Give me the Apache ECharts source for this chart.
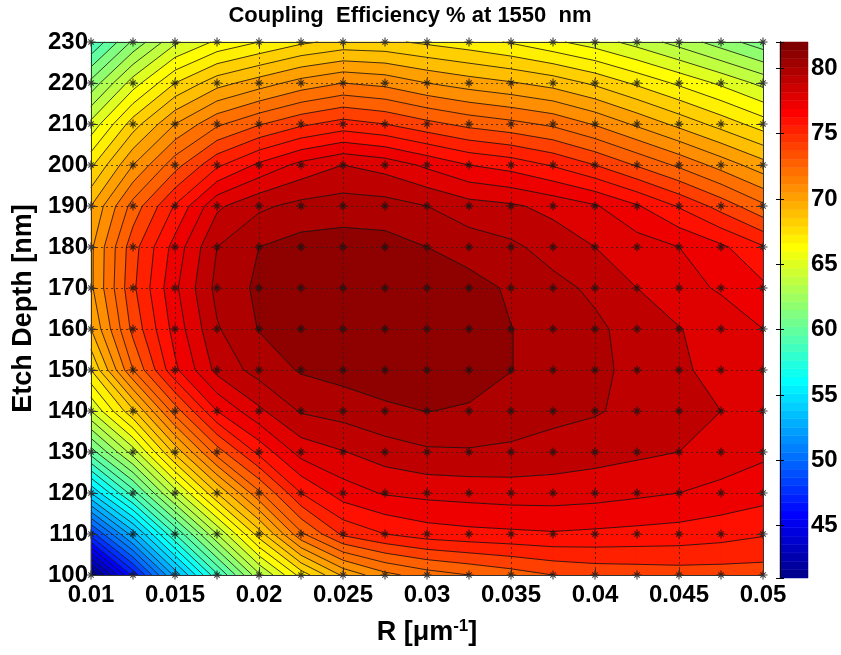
<!DOCTYPE html>
<html><head><meta charset="utf-8">
<script src="https://cdn.jsdelivr.net/npm/echarts@6/dist/echarts.min.js"></script>
<style>html,body{margin:0;padding:0;background:#fff}#c{width:841px;height:655px}</style>
</head><body><div id="c"></div>
<script>
// ---- data ----
const xValues = [0.01,0.0125,0.015,0.0175,0.02,0.0225,0.025,0.0275,0.03,0.0325,0.035,0.0375,0.04,0.0425,0.045,0.0475,0.05];
const yValues = [100,110,120,130,140,150,160,170,180,190,200,210,220,230];
const eff100 = [41.0,47.3,53.3,58.8,63.8,67.4,70.2,71.7,72.5,73.0,73.5,74.0,74.3,74.4,74.5,74.5,74.5];
const eff110 = [48.5,53.5,59.0,64.0,68.5,72.8,75.2,76.0,76.5,76.7,76.8,76.9,76.8,76.7,76.6,76.4,76.1];
const eff120 = [55.0,59.5,64.5,69.0,72.8,76.0,77.5,78.1,78.3,78.4,78.5,78.5,78.4,78.2,78.0,77.7,77.4];
const eff130 = [60.5,64.5,69.3,73.5,76.3,78.4,78.95,79.5,79.85,79.9,79.8,79.6,79.4,79.2,79.0,78.6,78.2];
const eff140 = [65.0,68.8,73.5,77.0,78.8,80.1,80.4,80.8,81.02,80.9,80.6,80.3,80.1,79.7,79.4,79.0,78.6];
const eff150 = [68.0,73.0,76.8,79.3,80.4,81.1,81.4,81.6,81.7,81.4,81.02,80.6,80.25,79.7,79.15,78.7,78.4];
const eff160 = [70.0,74.3,77.4,79.9,81.05,81.5,81.8,82.0,81.9,81.6,81.02,80.6,80.2,79.6,79.05,78.5,78.0];
const eff170 = [70.8,74.8,77.8,80.3,81.2,81.6,81.8,81.9,81.8,81.4,80.85,80.3,79.8,79.0,78.3,77.9,77.2];
const eff180 = [70.8,74.6,77.4,80.0,81.0,81.4,81.5,81.4,81.0,80.55,80.2,79.6,79.0,78.5,78.0,77.2,76.1];
const eff190 = [70.0,73.4,76.1,78.8,79.8,80.3,80.46,80.4,80.0,79.4,79.15,78.7,78.1,77.1,75.9,74.6,73.2];
const eff200 = [67.8,71.0,73.6,75.8,77.2,78.3,79.0,78.6,77.8,77.0,76.6,75.9,75.0,73.9,72.8,71.6,70.4];
const eff210 = [65.3,68.5,71.0,72.8,73.9,74.8,75.4,75.0,74.3,73.7,73.3,72.8,71.9,70.8,69.7,68.6,67.5];
const eff220 = [62.3,65.5,68.0,69.6,70.5,71.4,72.0,71.7,71.0,70.5,70.1,69.6,68.8,67.8,66.8,65.8,64.7];
const eff230 = [59.0,62.2,64.8,66.2,67.0,67.8,68.3,68.2,67.8,67.4,66.9,66.2,65.5,64.6,63.6,62.5,61.4];
const effRows = [eff100,eff110,eff120,eff130,eff140,eff150,eff160,eff170,eff180,eff190,eff200,eff210,eff220,eff230];
const contourLevels = [42,43,44,45,46,47,48,49,50,51,52,53,54,55,56,57,58,59,60,61,62,63,64,65,66,67,68,69,70,71,72,73,74,75,76,77,78,79,80,81];
const colorbarTicks = [45,50,55,60,65,70,75,80];
const titleText = 'Coupling  Efficiency % at 1550  nm';

// ---- helpers ----
const FONT = "'Liberation Sans', Arial, sans-serif";
function jet64(){
  const m=64,n=16,u=[];
  for(let k=1;k<=n;k++)u.push(k/n);
  for(let k=0;k<n-1;k++)u.push(1);
  for(let k=n;k>=1;k--)u.push(k/n);
  const R=new Array(m).fill(0),G=new Array(m).fill(0),B=new Array(m).fill(0);
  for(let k=0;k<u.length;k++){
    const gi=9+k, ri=gi+n, bi=gi-n;
    if(gi>=1&&gi<=m)G[gi-1]=u[k];
    if(ri>=1&&ri<=m)R[ri-1]=u[k];
    if(bi>=1&&bi<=m)B[bi-1]=u[k];
  }
  return R.map((r,i)=>'rgb('+Math.round(r*255)+','+Math.round(G[i]*255)+','+Math.round(B[i]*255)+')');
}
const JET = jet64();
const allZ = effRows.flat();
const zmin = Math.min(...allZ), zmax = Math.max(...allZ);
function colorOf(v){let k=Math.floor((v-zmin)/(zmax-zmin)*64);if(k<0)k=0;if(k>63)k=63;return JET[k];}
const bandEdges=[-Infinity,...contourLevels,Infinity];

function cellPoly(i,j){
  return [
    {x:xValues[i],y:yValues[j],v:effRows[j][i]},
    {x:xValues[i+1],y:yValues[j],v:effRows[j][i+1]},
    {x:xValues[i+1],y:yValues[j+1],v:effRows[j+1][i+1]},
    {x:xValues[i],y:yValues[j+1],v:effRows[j+1][i]}
  ];
}
function clip(poly,lev,above){
  const out=[],n=poly.length;
  for(let k=0;k<n;k++){
    const A=poly[k],B=poly[(k+1)%n];
    const ina=above?A.v>=lev:A.v<=lev, inb=above?B.v>=lev:B.v<=lev;
    if(ina)out.push(A);
    if(ina!==inb){const t=(lev-A.v)/(B.v-A.v);out.push({x:A.x+t*(B.x-A.x),y:A.y+t*(B.y-A.y),v:lev});}
  }
  return out;
}
const cells=[];
for(let j=0;j<yValues.length-1;j++)for(let i=0;i<xValues.length-1;i++)cells.push([xValues[i],yValues[j],i,j]);
const points=[];
for(let j=0;j<yValues.length;j++)for(let i=0;i<xValues.length;i++)points.push([xValues[i],yValues[j]]);
const cbData=[];
for(let k=0;k<64;k++){const lo=zmin+k*(zmax-zmin)/64;cbData.push([0,lo,lo+(zmax-zmin)/64,k]);}

function renderFill(params,api){
  const i=api.value(2),j=api.value(3);
  const base=cellPoly(i,j),vs=base.map(p=>p.v);
  const lo0=Math.min(...vs),hi0=Math.max(...vs);
  const children=[];
  for(let b=0;b<bandEdges.length-1;b++){
    const lo=bandEdges[b],hi=bandEdges[b+1];
    if(hi<lo0||lo>hi0)continue;
    let poly=base;
    if(isFinite(lo))poly=clip(poly,lo,true);
    if(poly.length<3)continue;
    if(isFinite(hi))poly=clip(poly,hi,false);
    if(poly.length<3)continue;
    const col=colorOf(b===0?zmin:lo);
    children.push({type:'polygon',shape:{points:poly.map(p=>api.coord([p.x,p.y]))},style:{fill:col,stroke:col,lineWidth:0.8}});
  }
  return {type:'group',children};
}
function renderLines(params,api){
  const i=api.value(2),j=api.value(3);
  const P=cellPoly(i,j),children=[];
  for(const L of contourLevels){
    const pts=[];
    for(let k=0;k<4;k++){
      const A=P[k],B=P[(k+1)%4];
      if((A.v>=L)!==(B.v>=L)){const t=(L-A.v)/(B.v-A.v);pts.push(api.coord([A.x+t*(B.x-A.x),A.y+t*(B.y-A.y)]));}
    }
    for(let s=0;s+1<pts.length;s+=2){
      children.push({type:'line',shape:{x1:pts[s][0],y1:pts[s][1],x2:pts[s+1][0],y2:pts[s+1][1]},style:{stroke:'#111',lineWidth:0.8}});
    }
  }
  return {type:'group',children};
}
function renderBar(params,api){
  const p0=api.coord([0,api.value(1)]),p1=api.coord([1,api.value(2)]);
  const col=JET[api.value(3)];
  return {type:'rect',shape:{x:p0[0],y:p1[1],width:p1[0]-p0[0],height:p0[1]-p1[1]},style:{fill:col,stroke:col,lineWidth:0.5}};
}
const lblStyle={fontFamily:FONT,fontWeight:'bold',fontSize:24,color:'#000'};
const nameStyle={fontFamily:FONT,fontWeight:'bold',fontSize:27,color:'#000'};
const chart=echarts.init(document.getElementById('c'),null,{renderer:'canvas'});
chart.setOption({
  animation:false,
  backgroundColor:'#fff',
  textStyle:{fontFamily:FONT},
  title:{text:titleText,left:410,top:5,textAlign:'center',padding:0,textStyle:{fontFamily:FONT,fontWeight:'bold',fontSize:22,color:'#000'}},
  grid:[
    {left:91,right:78,top:42,bottom:80},
    {left:780,right:33,top:42,bottom:77}
  ],
  xAxis:[
    {type:'value',gridIndex:0,min:0.01,max:0.05,interval:0.005,position:'bottom',z:10,
     axisLine:{show:true,lineStyle:{color:'#333',width:1}},
     axisTick:{show:true,inside:true,length:6,lineStyle:{color:'#333'}},
     splitLine:{show:true,lineStyle:{color:'#222',type:[2,3],width:1,opacity:0.75}},
     axisLabel:{...lblStyle,margin:8,formatter:v=>String(parseFloat(v.toFixed(4)))},
     name:'{n|R [μm}{s|-1}{n|]}',nameLocation:'middle',nameGap:43,
     nameTextStyle:{rich:{n:{...nameStyle},s:{fontFamily:FONT,fontWeight:'bold',fontSize:17,color:'#000',padding:[0,0,13,0]}}}},
    {type:'value',gridIndex:0,min:0.01,max:0.05,interval:0.005,position:'top',z:10,
     axisLine:{show:true,lineStyle:{color:'#333',width:1}},
     axisTick:{show:true,inside:true,length:6,lineStyle:{color:'#333'}},
     splitLine:{show:false},axisLabel:{show:false}},
    {type:'value',gridIndex:1,min:0,max:1,show:false}
  ],
  yAxis:[
    {type:'value',gridIndex:0,min:100,max:230,interval:10,position:'left',z:10,
     axisLine:{show:true,lineStyle:{color:'#333',width:1}},
     axisTick:{show:true,inside:true,length:6,lineStyle:{color:'#333'}},
     splitLine:{show:true,lineStyle:{color:'#222',type:[2,3],width:1,opacity:0.75}},
     axisLabel:{...lblStyle,margin:3},
     name:'Etch Depth [nm]',nameLocation:'middle',nameGap:48,nameRotate:90,
     nameTextStyle:{...nameStyle}},
    {type:'value',gridIndex:0,min:100,max:230,interval:10,position:'right',z:10,
     axisLine:{show:true,lineStyle:{color:'#333',width:1}},
     axisTick:{show:true,inside:true,length:6,lineStyle:{color:'#333'}},
     splitLine:{show:false},axisLabel:{show:false}},
    {type:'value',gridIndex:1,min:zmin,max:zmax,minInterval:5,maxInterval:5,position:'right',z:10,
     axisLine:{show:true,lineStyle:{color:'#000',width:1}},
     axisTick:{show:true,inside:true,length:4,lineStyle:{color:'#000'}},
     splitLine:{show:false},
     axisLabel:{...lblStyle,margin:3,formatter:v=>{const r=Math.round(v);return (Math.abs(v-r)<1e-6&&colorbarTicks.includes(r))?String(r):'';}}},
    {type:'value',gridIndex:1,min:zmin,max:zmax,minInterval:5,maxInterval:5,position:'left',z:10,
     axisLine:{show:true,lineStyle:{color:'#000',width:1}},
     axisTick:{show:true,inside:true,length:4,lineStyle:{color:'#000'}},
     splitLine:{show:false},axisLabel:{show:false}}
  ],
  series:[
    {type:'custom',name:'fill',xAxisIndex:0,yAxisIndex:0,z:2,silent:true,renderItem:renderFill,data:cells,encode:{x:0,y:1}},
    {type:'custom',name:'contours',xAxisIndex:0,yAxisIndex:0,z:3,silent:true,renderItem:renderLines,data:cells,encode:{x:0,y:1}},
    {type:'scatter',name:'samples',xAxisIndex:0,yAxisIndex:0,z:5,silent:true,data:points,
     symbol:'path://M0 -10 L0 10 M-10 0 L10 0 M-6 -6 L6 6 M-6 6 L6 -6',symbolSize:9,
     itemStyle:{color:'rgba(0,0,0,0)',borderColor:'#111',borderWidth:1.1}},
    {type:'custom',name:'colorbar',xAxisIndex:2,yAxisIndex:2,z:2,silent:true,renderItem:renderBar,data:cbData,encode:{x:0,y:1}}
  ]
});
</script></body></html>
